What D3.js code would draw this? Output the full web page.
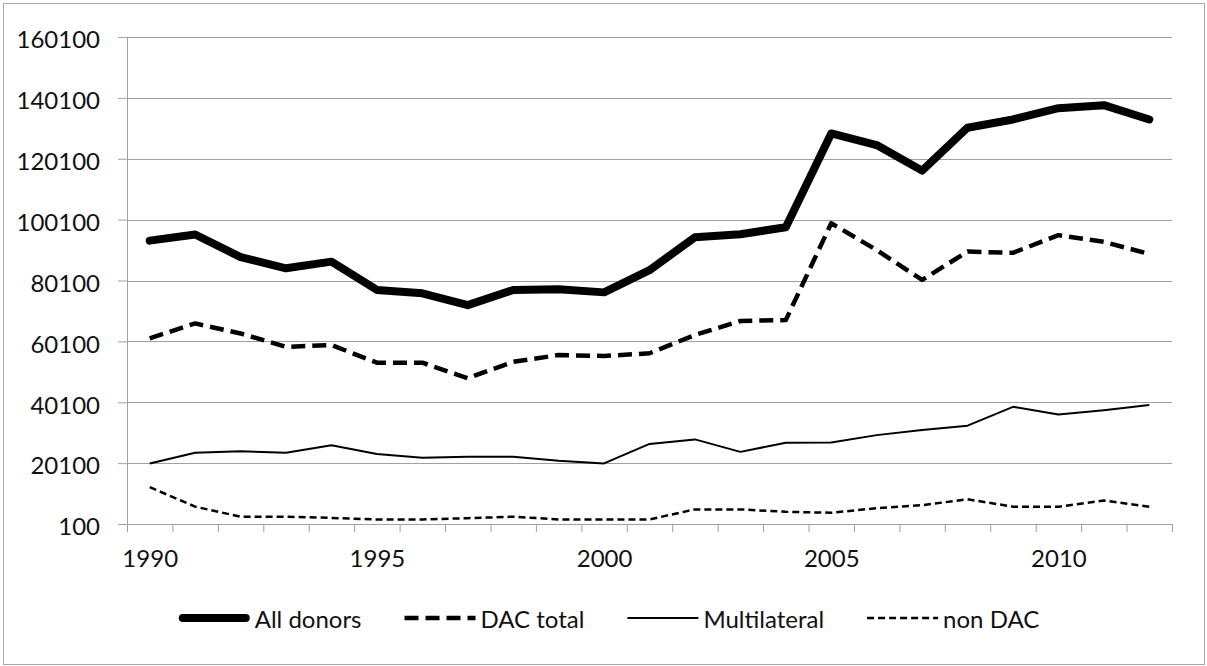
<!DOCTYPE html>
<html>
<head>
<meta charset="utf-8">
<script src="https://cdn.jsdelivr.net/npm/d3@7"></script>
<style>
  body { margin: 0; background: #fff; }
  text { font-family: Lato, "Open Sans", sans-serif; fill: #111; }
</style>
</head>
<body>
<div id="chart"></div>
<script>
// valores
const years = d3.range(1990, 2013);
const yearLabels = [1990, 1995, 2000, 2005, 2010];
const yTicks = [100, 20100, 40100, 60100, 80100, 100100, 120100, 140100, 160100];

const allDonors = [93200, 95200, 87800, 84100, 86300, 77000, 75900, 72000, 77000, 77200, 76200, 83500,
  94300, 95300, 97600, 128400, 124600, 116200, 130300, 133000, 136700, 137700, 133000];
const dacTotal = [61100, 66000, 62700, 58300, 58900, 53100, 53100, 48000, 53400, 55600, 55300, 56200,
  62200, 66800, 67100, 98900, 90100, 80300, 89600, 89200, 95000, 92800, 88800];
const multilateral = [20000, 23500, 24000, 23500, 26000, 23100, 21900, 22200, 22200, 20900, 20000, 26400,
  27900, 23800, 26800, 26900, 29300, 31000, 32400, 38600, 36100, 37500, 39200];
const nonDac = [12200, 5800, 2500, 2500, 2100, 1600, 1600, 2000, 2500, 1600, 1600, 1600,
  4900, 4900, 4100, 3800, 5300, 6300, 8200, 5800, 5800, 7800, 5800];

const seriesNames = ["All donors", "DAC total", "Multilateral", "non DAC"];

// estilos de cada série
const styles = [
  { width: 8, dash: null, cap: "round" },
  { width: 4.5, dash: "14,7", cap: "butt" },
  { width: 2, dash: null, cap: "butt" },
  { width: 2.5, dash: "7,4", cap: "butt" }
];

const W = 1207, H = 666;
const plot = { left: 127, right: 1172, top: 37, bottom: 524 };

const svg = d3.select("#chart").append("svg")
  .attr("width", W)
  .attr("height", H);

// moldura
svg.append("rect")
  .attr("x", 3.5).attr("y", 3.5)
  .attr("width", 1201).attr("height", 661)
  .attr("fill", "none")
  .attr("stroke", "#a8a8a8")
  .attr("stroke-width", 1);

const x = d3.scaleLinear().domain([1989.5, 2012.5]).range([plot.left, plot.right]);
const y = d3.scaleLinear().domain([100, 160100]).range([plot.bottom, plot.top]);

// grade horizontal
svg.append("g")
  .selectAll("line")
  .data(yTicks.slice(1))
  .enter().append("line")
  .attr("x1", plot.left).attr("x2", plot.right)
  .attr("y1", d => Math.round(y(d)) + 0.5)
  .attr("y2", d => Math.round(y(d)) + 0.5)
  .attr("stroke", "#a0a0a0")
  .attr("stroke-width", 1);

// eixo y
const yAxis = svg.append("g")
  .attr("transform", "translate(" + plot.left + ",0)")
  .call(d3.axisLeft(y).tickValues(yTicks).tickSize(9).tickPadding(18).tickFormat(d3.format("d")));
yAxis.select(".domain").attr("stroke", "#a0a0a0");
yAxis.selectAll(".tick line").attr("stroke", "#a0a0a0");
yAxis.selectAll(".tick text")
  .attr("font-size", 24)
  .attr("dy", "0.45em")
  .style("font-family", "Lato, 'Open Sans', sans-serif")
  .attr("fill", "#111");

// eixo x: marcas entre categorias
const boundaries = years.map(d => d - 0.5).concat([2012.5]);
const xAxis = svg.append("g")
  .attr("transform", "translate(0," + plot.bottom + ")")
  .call(d3.axisBottom(x).tickValues(boundaries).tickSize(8).tickFormat(""));
xAxis.select(".domain").attr("stroke", "#a0a0a0");
xAxis.selectAll(".tick line").attr("stroke", "#a0a0a0");

const xLabels = svg.append("g")
  .attr("transform", "translate(0," + plot.bottom + ")")
  .call(d3.axisBottom(x).tickValues(yearLabels).tickSize(0).tickPadding(26).tickFormat(d3.format("d")));
xLabels.select(".domain").remove();
xLabels.selectAll(".tick text")
  .attr("font-size", 24)
  .style("font-family", "Lato, 'Open Sans', sans-serif")
  .attr("fill", "#111");

// linhas
const seriesData = [allDonors, dacTotal, multilateral, nonDac];
const line = d3.line()
  .x((d, i) => x(years[i]))
  .y(d => y(d));

// desenha de baixo para cima para que a linha grossa fique na frente
seriesData.slice().reverse().forEach(function(values, k) {
  const i = seriesData.length - 1 - k;
  const s = styles[i];
  svg.append("path")
    .datum(values)
    .attr("d", line)
    .attr("fill", "none")
    .attr("stroke", "#000")
    .attr("stroke-width", s.width)
    .attr("stroke-linejoin", "round")
    .attr("stroke-linecap", s.cap)
    .attr("stroke-dasharray", s.dash);
});

// legenda
const legend = svg.append("g").attr("class", "legend");
const lineLen = 71, textGap = 5, entryGap = 43, legendY = 618;
let cursor = 0;
seriesNames.forEach(function(name, i) {
  const g = legend.append("g");
  const s = styles[i];
  g.append("line")
    .attr("x1", s.cap === "round" ? 4 : 0)
    .attr("x2", s.cap === "round" ? lineLen - 4 : lineLen)
    .attr("y1", 0).attr("y2", 0)
    .attr("stroke", "#000")
    .attr("stroke-width", s.width)
    .attr("stroke-linecap", s.cap)
    .attr("stroke-dasharray", s.dash);
  const t = g.append("text")
    .attr("x", lineLen + textGap)
    .attr("y", 10)
    .attr("font-size", 24)
    .text(name);
  const w = lineLen + textGap + t.node().getComputedTextLength();
  g.attr("transform", "translate(" + cursor + "," + legendY + ")");
  cursor += w + entryGap;
});
const totalW = cursor - entryGap;
legend.attr("transform", "translate(" + (609 - totalW / 2) + ",0)");
</script>
</body>
</html>
